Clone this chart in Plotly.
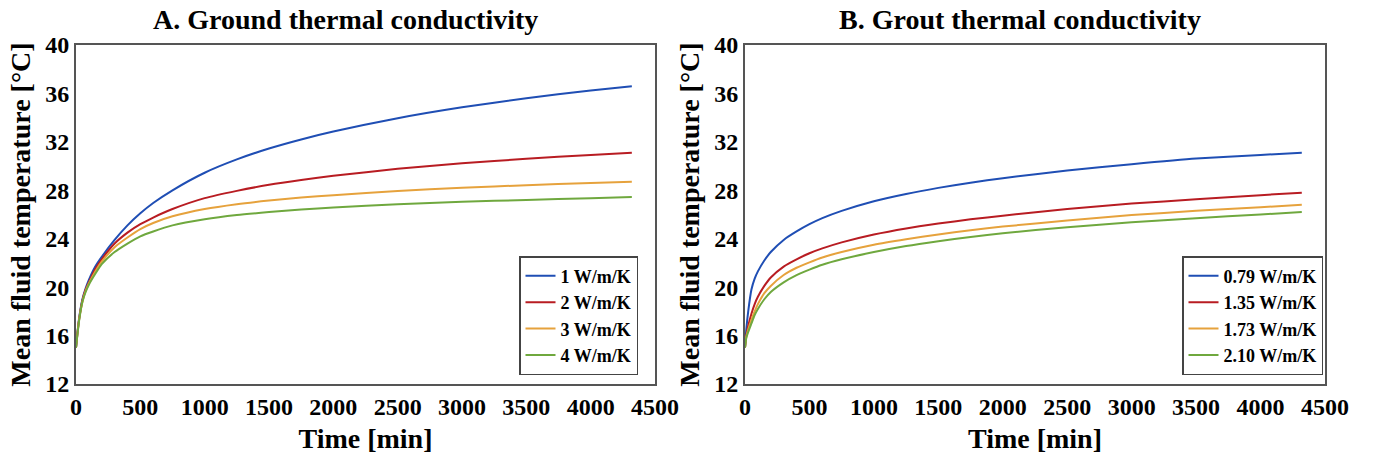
import plotly.graph_objects as go

# ---- data ----
time_min = [0, 10, 25, 50, 75, 100, 150, 200, 300, 400, 500, 600, 750, 1000,
            1250, 1500, 1750, 2000, 2500, 3000, 3500, 4000, 4320]

ground_labels = ["1 W/m/K", "2 W/m/K", "3 W/m/K", "4 W/m/K"]
ground_1 = [15.0, 16.1, 17.5, 19.0, 19.9, 20.6, 21.7, 22.5, 23.9, 25.1, 26.1, 26.95, 28.0, 29.45,
            30.55, 31.45, 32.2, 32.85, 33.95, 34.85, 35.6, 36.25, 36.6]
ground_2 = [15.0, 16.1, 17.4, 18.9, 19.8, 20.4, 21.5, 22.3, 23.6, 24.5, 25.2, 25.75, 26.45, 27.35,
            27.95, 28.45, 28.85, 29.2, 29.77, 30.23, 30.6, 30.92, 31.1]
ground_3 = [15.0, 16.0, 17.4, 18.8, 19.7, 20.3, 21.3, 22.1, 23.3, 24.1, 24.8, 25.3, 25.85, 26.45,
            26.85, 27.15, 27.4, 27.6, 27.95, 28.2, 28.42, 28.6, 28.7]
ground_4 = [15.0, 16.0, 17.3, 18.8, 19.6, 20.2, 21.1, 21.9, 22.9, 23.6, 24.2, 24.6, 25.1, 25.6,
            25.95, 26.2, 26.42, 26.58, 26.85, 27.05, 27.2, 27.35, 27.45]

grout_labels = ["0.79 W/m/K", "1.35 W/m/K", "1.73 W/m/K", "2.10 W/m/K"]
grout_1 = [15.0, 16.5, 18.0, 19.8, 20.7, 21.3, 22.2, 22.9, 23.9, 24.6, 25.2, 25.7, 26.3, 27.1,
           27.7, 28.2, 28.63, 29.0, 29.63, 30.15, 30.62, 30.92, 31.1]
grout_2 = [15.0, 16.0, 16.8, 17.8, 18.6, 19.2, 20.1, 20.8, 21.7, 22.3, 22.8, 23.2, 23.7, 24.35,
           24.85, 25.25, 25.6, 25.9, 26.45, 26.9, 27.25, 27.6, 27.8]
grout_3 = [15.0, 15.9, 16.5, 17.3, 18.0, 18.6, 19.5, 20.1, 21.0, 21.6, 22.05, 22.45, 22.9, 23.5,
           23.95, 24.35, 24.7, 25.0, 25.5, 25.95, 26.3, 26.6, 26.8]
grout_4 = [15.0, 15.8, 16.3, 17.0, 17.7, 18.2, 19.0, 19.6, 20.4, 21.0, 21.45, 21.85, 22.3, 22.9,
           23.4, 23.8, 24.15, 24.45, 24.95, 25.35, 25.7, 26.0, 26.2]

colors = ["#1F4EB4", "#B81C22", "#E6A23C", "#6FA83E"]

panel_titles = ["A. Ground thermal conductivity", "B. Grout thermal conductivity"]
x_title = "Time [min]"
y_title = "Mean fluid temperature [°C]"
x_ticks = [0, 500, 1000, 1500, 2000, 2500, 3000, 3500, 4000, 4500]
y_ticks = [12, 16, 20, 24, 28, 32, 36, 40]

FONT = "Liberation Serif"

fig = go.Figure()

for lab, ys, c in zip(ground_labels, [ground_1, ground_2, ground_3, ground_4], colors):
    fig.add_trace(go.Scatter(x=time_min, y=ys, name=lab, mode="lines",
                             line=dict(color=c, width=2, shape="spline", smoothing=0.6),
                             xaxis="x", yaxis="y", legend="legend"))
for lab, ys, c in zip(grout_labels, [grout_1, grout_2, grout_3, grout_4], colors):
    fig.add_trace(go.Scatter(x=time_min, y=ys, name=lab, mode="lines",
                             line=dict(color=c, width=2, shape="spline", smoothing=0.6),
                             xaxis="x2", yaxis="y2", legend="legend2"))

# body margin is removed in the page, so figure coordinates = screen coordinates
W, H = 1378, 461
L, T = 76, 45
pw = 1249
ph = 341
R = W - L - pw
B = H - T - ph

def xpaper(px):
    return (px - L) / pw

axis_common = dict(showgrid=False, zeroline=False, showline=True, mirror=True,
                   linecolor="#555555", linewidth=2, ticks="",
                   tickfont=dict(family=FONT, size=24, color="black", weight="bold"))

xa = dict(axis_common, range=[0, 4500], tickvals=x_ticks,
          title=dict(text=x_title, font=dict(family=FONT, size=28, color="black", weight="bold"), standoff=10))
ya = dict(axis_common, range=[12, 40], tickvals=y_ticks,
          title=dict(text=y_title, font=dict(family=FONT, size=28, color="black", weight="bold"), standoff=6))

legend_common = dict(bgcolor="white", bordercolor="#444444", borderwidth=1.5,
                     font=dict(family=FONT, size=18, color="black", weight="bold"),
                     xanchor="right", yanchor="bottom", tracegroupgap=0)

fig.update_layout(
    width=W, height=H,
    margin=dict(l=L, r=R, t=T, b=B),
    paper_bgcolor="white", plot_bgcolor="white",
    font=dict(family=FONT, color="black", weight="bold"),
    xaxis=dict(xa, domain=[0, xpaper(655)], anchor="y"),
    yaxis=dict(ya, domain=[0, 1], anchor="x"),
    xaxis2=dict(xa, domain=[xpaper(745), 1], anchor="y2"),
    yaxis2=dict(ya, domain=[0, 1], anchor="x2"),
    legend=dict(legend_common, x=xpaper(638), y=(386 - 377) / ph),
    legend2=dict(legend_common, x=xpaper(1323), y=(386 - 377) / ph),
    showlegend=True,
    annotations=[
        dict(text=panel_titles[0], x=xpaper(345), y=1 + (T - 19) / ph, xref="paper", yref="paper",
             xanchor="center", yanchor="middle", showarrow=False,
             font=dict(family=FONT, size=28, color="black", weight="bold")),
        dict(text=panel_titles[1], x=xpaper(1020), y=1 + (T - 19) / ph, xref="paper", yref="paper",
             xanchor="center", yanchor="middle", showarrow=False,
             font=dict(family=FONT, size=28, color="black", weight="bold")),
    ],
)

fig.write_html("out.html", config={"displayModeBar": False},
               post_script="document.body.style.margin='0';document.body.style.overflow='hidden';")
